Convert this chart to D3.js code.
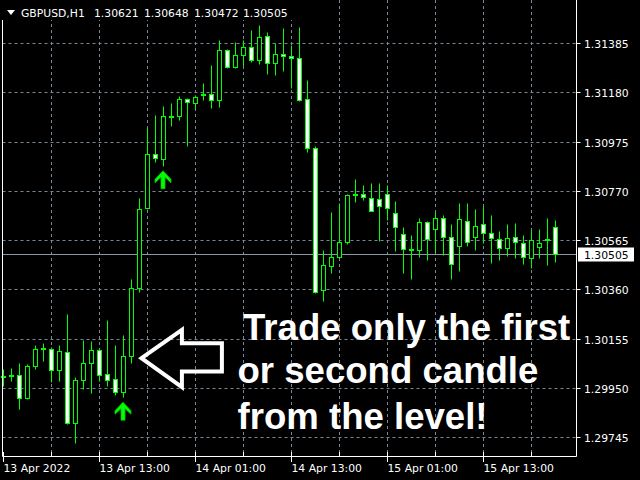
<!DOCTYPE html>
<html><head><meta charset="utf-8">
<script src="https://cdn.jsdelivr.net/npm/d3@7"></script>
<style>html,body{margin:0;padding:0;background:#000;overflow:hidden}</style>
</head><body><svg id="c" width="640" height="480"></svg>
<script>
const symbol = "GBPUSD,H1";
const opens = [1.29995,1.30001,1.30004,1.29907,1.30040,1.30111,1.30113,1.30024,1.30100,1.29803,
1.29982,1.30053,1.30108,1.30009,1.29985,1.29932,1.30084,1.30365,1.30697,1.30923,
1.30903,1.31076,1.31080,1.31152,1.31136,1.31168,1.31173,1.31148,1.31356,1.31284,
1.31335,1.31368,1.31313,1.31414,1.31300,1.31339,1.31331,1.31323,1.31152,1.30948,
1.30356,1.30456,1.30494,1.30555,1.30754,1.30757,1.30741,1.30736,1.30757,1.30678,
1.30591,1.30528,1.30524,1.30641,1.30612,1.30657,1.30578,1.30541,1.30645,1.30578,
1.30632,1.30595,1.30570,1.30533,1.30578,1.30553,1.30491,1.30537,1.30566,1.30621];
const highs = [1.30027,1.30031,1.30051,1.30047,1.30129,1.30135,1.30118,1.30126,1.30255,1.29996,
1.30147,1.30143,1.30114,1.30234,1.30126,1.30168,1.30401,1.30738,1.31031,1.31087,
1.31124,1.31137,1.31163,1.31155,1.31168,1.31220,1.31295,1.31399,1.31359,1.31390,
1.31399,1.31440,1.31461,1.31432,1.31385,1.31449,1.31378,1.31453,1.31232,1.30958,
1.30525,1.30681,1.30717,1.30757,1.30817,1.30792,1.30803,1.30803,1.30796,1.30729,
1.30621,1.30584,1.30657,1.30646,1.30682,1.30671,1.30632,1.30717,1.30721,1.30692,
1.30707,1.30667,1.30603,1.30632,1.30637,1.30584,1.30607,1.30612,1.30657,1.30648];
const lows = [1.29956,1.29978,1.29863,1.29903,1.30029,1.30061,1.29975,1.29978,1.29799,1.29718,
1.29943,1.29928,1.29978,1.29957,1.29920,1.29911,1.30054,1.30348,1.30694,1.30891,
1.30872,1.31038,1.31066,1.30955,1.31112,1.31149,1.31113,1.31117,1.31282,1.31282,
1.31288,1.31304,1.31299,1.31257,1.31250,1.31267,1.31196,1.31142,1.30931,1.30345,
1.30313,1.30426,1.30492,1.30550,1.30722,1.30731,1.30685,1.30559,1.30647,1.30518,
1.30426,1.30402,1.30494,1.30481,1.30514,1.30501,1.30401,1.30435,1.30539,1.30523,
1.30553,1.30470,1.30481,1.30498,1.30491,1.30464,1.30449,1.30491,1.30462,1.30472];
const closes = [1.29999,1.30005,1.29907,1.30042,1.30113,1.30114,1.30025,1.30104,1.29803,1.29984,
1.30054,1.30109,1.30004,1.29984,1.29934,1.30084,1.30366,1.30695,1.30923,1.30905,
1.31081,1.31081,1.31152,1.31138,1.31160,1.31171,1.31148,1.31356,1.31285,1.31335,
1.31368,1.31313,1.31410,1.31300,1.31339,1.31329,1.31321,1.31146,1.30948,1.30350,
1.30459,1.30495,1.30558,1.30753,1.30756,1.30743,1.30686,1.30707,1.30697,1.30618,
1.30528,1.30525,1.30641,1.30570,1.30657,1.30578,1.30466,1.30653,1.30558,1.30624,
1.30595,1.30574,1.30533,1.30574,1.30558,1.30495,1.30566,1.30553,1.30568,1.30505];
const priceTicks = [1.29745,1.29950,1.30155,1.30360,1.30565,1.30770,1.30975,1.31180,1.31385];
const timeLabels = ["13 Apr 2022","13 Apr 13:00","14 Apr 01:00","14 Apr 13:00","15 Apr 01:00","15 Apr 13:00"];
const timeLabelBars = [0,12,24,36,48,60];
const gridBars = [6,12,18,24,30,36,42,48,54,60,66];
const signalBars = [15,20];
const signalPrices = [1.29892,1.30855];
const noteLines = ["Trade only the first","or second candle","from the level!"];
const noteArrowBar = 17, noteArrowPrice = 1.30075;

const bars = opens.map((o,i)=>({i, o, h:highs[i], l:lows[i], c:closes[i]}));
const last = bars[bars.length-1];
const bid = last.c;

const svg = d3.select("#c");
svg.append("rect").attr("width",640).attr("height",480).attr("fill","#000");

const x = d3.scaleLinear().domain([0, bars.length-1]).range([3.5, 3.5 + 8*(bars.length-1)]);
const y = d3.scaleLinear().domain([priceTicks[0], priceTicks[priceTicks.length-1]]).range([437.5, 43.5]);
const py = p => Math.round(y(p) - 0.5) + 0.5;

const plotL = 2.5, plotR = 576.5, plotB = 456.5;
const GRID = "#778899", FONT = "DejaVu Sans";

// grid
const g = svg.append("g");
g.selectAll("line.h").data(priceTicks).join("line")
  .attr("x1", plotL).attr("x2", plotR).attr("y1", d=>py(d)).attr("y2", d=>py(d))
  .attr("stroke", GRID).attr("stroke-dasharray","3,3");
g.selectAll("line.v").data(gridBars).join("line").attr("class","v")
  .attr("x1", d=>x(d)).attr("x2", d=>x(d)).attr("y1", 0).attr("y2", plotB)
  .attr("stroke", GRID).attr("stroke-dasharray","3,3");

// bid line
svg.append("line").attr("x1",plotL).attr("x2",plotR).attr("y1",py(bid)).attr("y2",py(bid))
  .attr("stroke","#8a98a6");

// candles
const cg = svg.append("g");
cg.selectAll("line.w").data(bars).join("line")
  .attr("x1", d=>x(d.i)).attr("x2", d=>x(d.i))
  .attr("y1", d=>py(d.h)).attr("y2", d=>py(d.l))
  .attr("stroke","#00ff00");
cg.selectAll("rect.b").data(bars).join("rect")
  .attr("x", d=>x(d.i)-2).attr("width", 4)
  .attr("y", d=>Math.min(py(d.o), py(d.c)))
  .attr("height", d=>Math.max(1, Math.abs(py(d.o)-py(d.c))))
  .attr("fill", d=> d.c >= d.o ? "#000" : "#fff")
  .attr("stroke","#00ff00");

// signal arrows
const upArrow = [[0,0],[8,8.5],[8,12],[2,6.5],[2,18],[-2,18],[-2,6.5],[-8,12],[-8,8.5]];
svg.selectAll("polygon.sig").data(signalBars).join("polygon")
  .attr("points", (d,k)=>upArrow.map(p=>[x(d)-0.5+p[0], y(signalPrices[k])+p[1]].join(",")).join(" "))
  .attr("fill","#00ff00").attr("stroke","#00c000").attr("stroke-width",0.8);

// note arrow
const tx = x(noteArrowBar)+2, ty = y(noteArrowPrice);
const noteArrow = [[0,0],[40.4,-28.3],[40.4,-15],[80.4,-15],[80.4,13.4],[40.4,13.4],[40.4,29]];
svg.append("polygon").attr("points", noteArrow.map(p=>[tx+p[0], ty+p[1]].join(",")).join(" "))
  .attr("fill","none").attr("stroke","#fff").attr("stroke-width",4).attr("stroke-linejoin","miter");

// note text
const noteX = [243,237.5,237.5], noteY = [339.5,382.5,428.5];
svg.selectAll("text.note").data(noteLines).join("text")
  .attr("x",(d,k)=>noteX[k]).attr("y",(d,k)=>noteY[k])
  .attr("font-family","Liberation Sans, Arial, sans-serif").attr("font-weight","bold")
  .attr("font-size",36.6).attr("fill","#fff").text(d=>d);

// frame
svg.append("line").attr("x1",plotL).attr("x2",plotL).attr("y1",0).attr("y2",plotB).attr("stroke","#fff");
svg.append("line").attr("x1",plotR).attr("x2",plotR).attr("y1",0).attr("y2",plotB).attr("stroke","#fff");
svg.append("line").attr("x1",plotL).attr("x2",plotR).attr("y1",plotB).attr("y2",plotB).attr("stroke","#fff");

// price axis
svg.selectAll("line.pt").data(priceTicks).join("line")
  .attr("x1",plotR).attr("x2",plotR+4).attr("y1",d=>py(d)).attr("y2",d=>py(d)).attr("stroke","#fff");
svg.selectAll("text.pl").data(priceTicks).join("text")
  .attr("x",584).attr("y",d=>py(d)+4).attr("font-family",FONT).attr("font-size",10.8)
  .attr("fill","#fff").text(d=>d.toFixed(5));
svg.append("rect").attr("x",578).attr("y",py(bid)-7).attr("width",56).attr("height",14).attr("fill","#fff");
svg.append("text").attr("x",584).attr("y",py(bid)+4).attr("font-family",FONT).attr("font-size",10.8)
  .attr("fill","#000").text(bid.toFixed(5));

// time axis
const allTicks = d3.range(0, bars.length, 6);
svg.selectAll("line.tt").data(allTicks).join("line")
  .attr("x1",d=>x(d)).attr("x2",d=>x(d))
  .attr("y1",452).attr("y2",d=> timeLabelBars.includes(d) ? 462 : 456).attr("stroke","#fff");
svg.selectAll("text.tl").data(timeLabels).join("text")
  .attr("x",(d,k)=>x(timeLabelBars[k])).attr("y",472).attr("font-family",FONT).attr("font-size",10.8)
  .attr("fill","#fff").text(d=>d);

// header
svg.append("rect").attr("x",0).attr("y",0).attr("width",292).attr("height",20).attr("fill","#000");
svg.append("polygon").attr("points","7,10 15,10 11,15").attr("fill","#fff");
svg.append("text").attr("x",21).attr("y",17).attr("font-family",FONT).attr("font-size",10.8).attr("fill","#fff").text(symbol);
const hdrX = [94,144,194,243];
svg.selectAll("text.hd").data([last.o,last.h,last.l,last.c]).join("text")
  .attr("x",(d,k)=>hdrX[k]).attr("y",17).attr("font-family",FONT).attr("font-size",10.8)
  .attr("fill","#fff").text(d=>d.toFixed(5));
</script></body></html>
